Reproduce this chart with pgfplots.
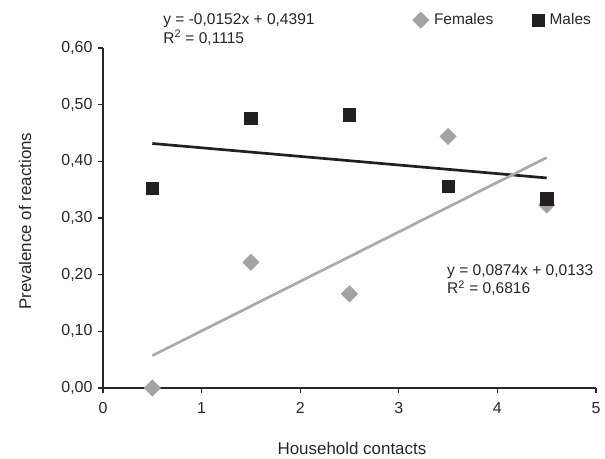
\documentclass[border=0pt]{standalone}
\usepackage{pgfplots}
\pgfplotsset{compat=1.18}
\usepackage{fontspec}
\setmainfont{Liberation Sans}
\definecolor{fem}{HTML}{A3A3A3}
\definecolor{femline}{HTML}{AAAAAA}
\definecolor{mal}{HTML}{231F20}
\begin{document}
\begin{tikzpicture}
\begin{axis}[
  scale only axis,
  width=493bp, height=340bp,
  xmin=0, xmax=5, ymin=0, ymax=0.6,
  axis x line*=bottom, axis y line*=left,
  axis line style={line width=1.2pt, color=black!85},
  xtick={0,1,2,3,4,5},
  ytick={0,0.1,0.2,0.3,0.4,0.5,0.6},
  tick align=outside,
  major tick length=5bp,
  tick style={line width=1.1pt, color=black!85},
  /pgf/number format/assume math mode=true,
  yticklabel style={/pgf/number format/.cd, fixed, fixed zerofill, precision=2, use comma, /tikz/.cd, xshift=-2bp},
  xticklabel style={/pgf/number format/.cd, use comma, /tikz/.cd, yshift=-6bp},
  ticklabel style={font=\fontsize{16}{18}\selectfont, text=black!85},
  xlabel={Household contacts},
  ylabel={Prevalence of reactions},
  label style={font=\fontsize{17}{19}\selectfont, text=black!85},
  xlabel style={at={(axis description cs:0.505,-0.179)}, anchor=center},
  ylabel style={at={(axis description cs:-0.158,0.491)}, anchor=center, rotate=0},
  clip=false,
  legend style={at={(axis description cs:1.0,1.082)}, anchor=east, draw=none, fill=none,
    font=\fontsize{15.5}{17}\selectfont, text=black!85,
    /tikz/every odd column/.append style={column sep=3bp},
    /tikz/every even column/.append style={column sep=37bp}},
  legend columns=2,
]
\coordinate (bl) at (rel axis cs:0,0);
% trend lines
\addplot[forget plot, color=mal, line width=2.7pt] coordinates {(0.5,0.4315) (4.5,0.3707)};
\addplot[forget plot, color=femline, line width=2.7pt] coordinates {(0.5,0.0570) (4.5,0.4066)};
% data
\addplot[only marks, mark=square*, mark size=5.8bp, color=fem, mark options={rotate=45, fill=fem, draw=fem}]
  coordinates {(0.5,0.000) (1.5,0.222) (2.5,0.166) (3.5,0.444) (4.5,0.323)};
\addlegendentry{Females}
\addplot[only marks, mark=square*, mark size=6.2bp, color=mal, mark options={fill=mal, draw=mal}]
  coordinates {(0.5,0.353) (1.5,0.476) (2.5,0.482) (3.5,0.356) (4.5,0.334)};
\addlegendentry{Males}
\node[anchor=base west, inner sep=0pt, font=\fontsize{15.6}{17}\selectfont, text=black!85] at (axis cs:0.61,0.6406) {y = -0,0152x + 0,4391};
\node[anchor=base west, inner sep=0pt, font=\fontsize{15.6}{17}\selectfont, text=black!85] at (axis cs:0.61,0.6088) {R\textsuperscript{2} = 0,1115};
\node[anchor=base west, inner sep=0pt, font=\fontsize{15.6}{17}\selectfont, text=black!85] at (axis cs:3.489,0.1994) {y = 0,0874x + 0,0133};
\node[anchor=base west, inner sep=0pt, font=\fontsize{15.6}{17}\selectfont, text=black!85] at (axis cs:3.489,0.1659) {R\textsuperscript{2} = 0,6816};
\end{axis}
\pgfresetboundingbox
\path (bl) ++(-103bp,-71bp) rectangle ++(605bp,459bp);
\end{tikzpicture}
\end{document}
